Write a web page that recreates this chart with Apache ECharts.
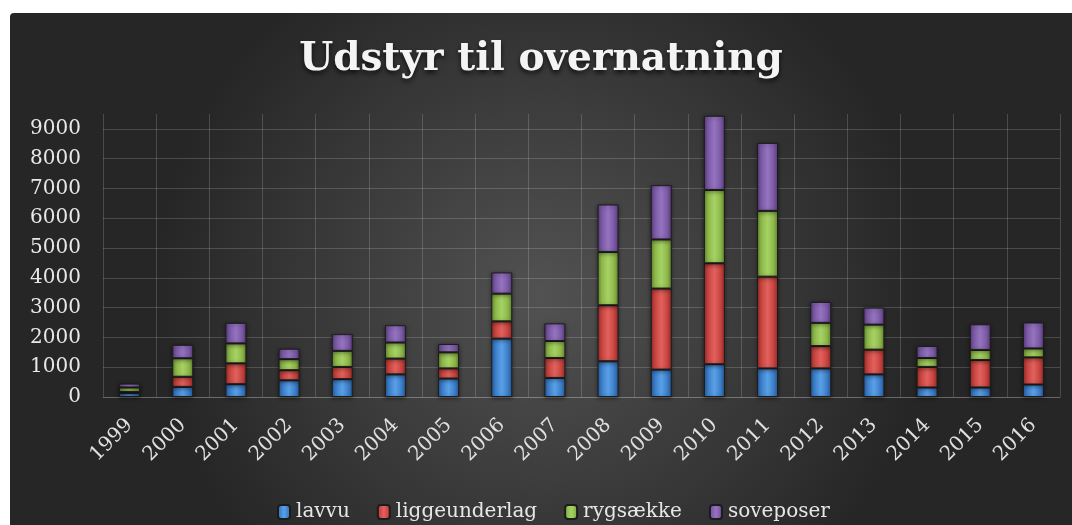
<!DOCTYPE html>
<html>
<head>
<meta charset="utf-8">
<script src="https://cdn.jsdelivr.net/npm/echarts@6/dist/echarts.min.js"></script>
<style>
  html, body { margin: 0; padding: 0; background: #fff; }
  #chart {
    position: absolute;
    left: 10px;
    top: 13px;
    width: 1062px;
    height: 512px;
    border-top-left-radius: 4px;
    overflow: hidden;
  }
</style>
</head>
<body>
<div id="chart"></div>
<script>
// data
const years = ['1999', '2000', '2001', '2002', '2003', '2004', '2005', '2006', '2007',
  '2008', '2009', '2010', '2011', '2012', '2013', '2014', '2015', '2016']
const lavvu = [130, 340, 430, 560, 600, 760, 620, 1960, 640, 1200, 920, 1100, 960, 960, 760, 320, 320, 420]
const liggeunderlag = [40, 340, 700, 340, 410, 530, 340, 580, 670, 1880, 2720, 3390, 3080, 750, 830, 690, 920, 910]
const rygsaekke = [150, 620, 670, 370, 540, 540, 540, 930, 570, 1790, 1650, 2460, 2210, 780, 840, 300, 340, 300]
const soveposer = [130, 450, 690, 350, 560, 580, 280, 710, 590, 1590, 1820, 2490, 2280, 700, 570, 400, 860, 870]
const yTicks = [0, 1000, 2000, 3000, 4000, 5000, 6000, 7000, 8000, 9000]

const font = 'DejaVu Serif'
const gridColor = 'rgba(255,255,255,0.17)'

const bevel = (base, light, dark) => ({
  type: 'linear', x: 0, y: 0, x2: 1, y2: 0,
  colorStops: [
    { offset: 0, color: dark },
    { offset: 0.18, color: base },
    { offset: 0.5, color: light },
    { offset: 0.82, color: base },
    { offset: 1, color: dark },
  ],
})

const makeSeries = (name, data, base, light, dark) => ({
  name,
  type: 'bar',
  stack: 'total',
  barWidth: 21,
  data,
  itemStyle: {
    color: bevel(base, light, dark),
    borderColor: '#1c1c1c',
    borderWidth: 1,
    shadowColor: 'rgba(0,0,0,0.45)',
    shadowBlur: 4,
    shadowOffsetY: 1,
  },
})

const chart = echarts.init(document.getElementById('chart'))

chart.setOption({
  animation: false,
  backgroundColor: {
    type: 'radial', x: 0.5, y: 0.55, r: 0.75,
    colorStops: [
      { offset: 0, color: '#525252' },
      { offset: 1, color: '#262626' },
    ],
  },
  title: {
    text: 'Udstyr til overnatning',
    left: 'center',
    top: 22,
    textStyle: {
      fontFamily: font,
      fontWeight: 'bold',
      fontSize: 39,
      color: '#f4f4f4',
      textShadowColor: 'rgba(0,0,0,0.7)',
      textShadowBlur: 5,
      textShadowOffsetY: 3,
    },
  },
  legend: {
    bottom: -2,
    left: 262,
    itemWidth: 12,
    itemHeight: 14,
    itemGap: 27,
    textStyle: { fontFamily: font, fontSize: 20, color: '#e6e6e6', padding: [0, 0, 0, 1] },
  },
  grid: { left: 93, right: 12, top: 101, bottom: 128, containLabel: false },
  xAxis: {
    type: 'category',
    data: years,
    boundaryGap: true,
    axisTick: { show: false },
    axisLine: { lineStyle: { color: gridColor } },
    splitLine: { show: true, lineStyle: { color: gridColor } },
    axisLabel: {
      rotate: 45,
      margin: 25,
      interval: 0,
      fontFamily: font,
      fontSize: 20,
      color: '#e0e0e0',
    },
  },
  yAxis: {
    type: 'value',
    min: 0,
    max: 9500,
    interval: 1000,
    axisLine: { show: false },
    axisTick: { show: false },
    splitLine: { show: true, showMaxLine: false, lineStyle: { color: gridColor } },
    axisLabel: {
      margin: 22,
      fontFamily: font,
      fontSize: 20,
      color: '#e8e8e8',
      formatter: (v) => (yTicks.includes(v) ? String(v) : ''),
    },
  },
  series: [
    makeSeries('lavvu', lavvu, '#3a7dc9', '#5aa0e6', '#2a5d99'),
    makeSeries('liggeunderlag', liggeunderlag, '#c8423e', '#e0625d', '#962e2b'),
    makeSeries('rygsække', rygsaekke, '#8cb748', '#a6d164', '#668a32'),
    makeSeries('soveposer', soveposer, '#7b58a5', '#9473bf', '#5a3f7c'),
  ],
})
</script>
</body>
</html>
